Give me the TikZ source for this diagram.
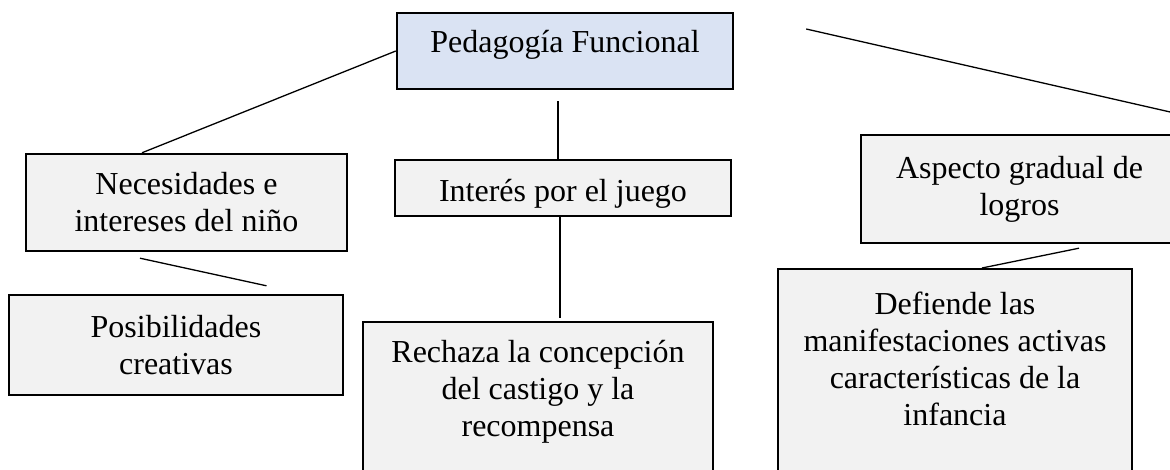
\documentclass[tikz,border=0pt]{standalone}
\usepackage{fontspec}
\setmainfont{Liberation Serif}
\definecolor{boxgray}{HTML}{F2F2F2}
\definecolor{topblue}{HTML}{DAE3F3}
\begin{document}
\begin{tikzpicture}[x=1pt,y=-1pt]
    \tikzstyle{box}=[draw=black,line width=2.4pt,fill=boxgray,rectangle,inner sep=4pt,align=center,font=\fontsize{32}{37}\selectfont]
    \tikzstyle{link}=[line width=1.3pt]

    \useasboundingbox (0,0) rectangle (1170,470);
    \clip (0,0) rectangle (1170,470);

    \node[box,fill=topblue,minimum width=336pt,minimum height=76pt,text height=22pt,text depth=18pt] at (565,51) (pedagogia) {Pedagogía Funcional};
    \node[box,minimum width=321pt,minimum height=97pt,text height=59pt,text depth=0pt] at (186.5,202.5) (necesidades) {Necesidades e\\intereses del niño};
    \node[box,minimum width=336pt,minimum height=56pt,text height=35pt,text depth=7pt] at (563,188) (interes) {Interés por el juego};
    \node[box,minimum width=317pt,minimum height=108pt] at (1019.5,189) (aspecto) {Aspecto gradual de\\logros};
    \node[box,minimum width=334pt,minimum height=100pt] at (176,345) (posibilidades) {Posibilidades\\creativas};
    \node[box,anchor=north,minimum width=350pt,text height=110.7pt,text depth=120pt] at (538,321) (rechaza) {Rechaza la concepción\\del castigo y la\\recompensa};
    \node[box,anchor=north,minimum width=354pt,text height=152.3pt,text depth=120pt] at (955,268) (defiende) {Defiende las\\manifestaciones activas\\características de la\\infancia};
    \coordinate (offpage) at (1200,118.8);

    \draw[link] (pedagogia.west) -- ([xshift=-44.5pt]necesidades.north);
    \draw[link] ([xshift=-7pt,yshift=-11pt]pedagogia.south) -- ([xshift=-5pt]interes.north);
    \draw[link] ([xshift=72pt,yshift=22pt]pedagogia.east) -- (offpage);
    \draw[link] ([xshift=-46.5pt,yshift=-6pt]necesidades.south) -- ([xshift=90.5pt,yshift=8pt]posibilidades.north);
    \draw[link] ([xshift=-3pt]interes.south) -- ([xshift=22pt,yshift=3pt]rechaza.north);
    \draw[link] ([xshift=59.5pt,yshift=-4pt]aspecto.south) -- ([xshift=27pt]defiende.north);
\end{tikzpicture}
\end{document}
